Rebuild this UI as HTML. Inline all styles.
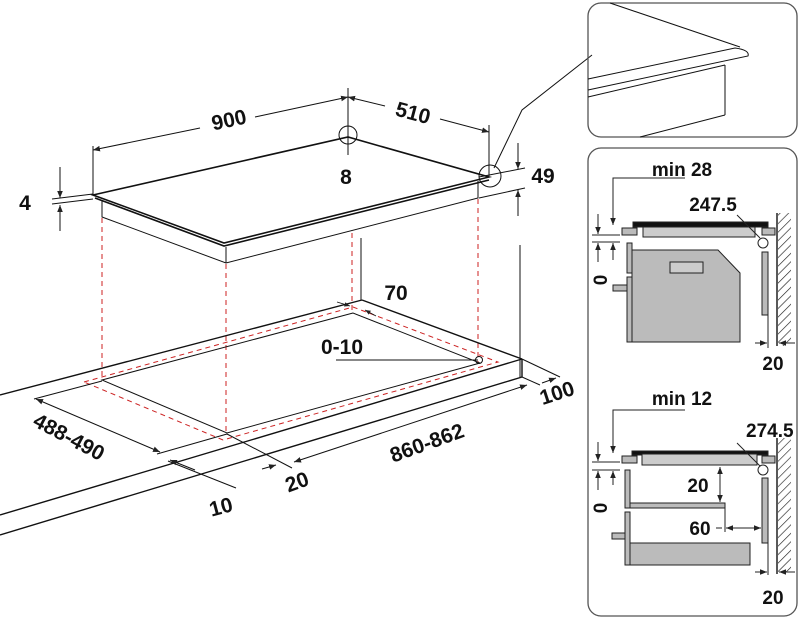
<!DOCTYPE html>
<html><head><meta charset="utf-8"><style>
html,body{margin:0;padding:0;background:#fff}
svg{display:block}
text{font-family:"Liberation Sans",sans-serif;font-weight:bold;fill:#111}
</style></head><body>
<svg width="800" height="621" viewBox="0 0 800 621" xmlns="http://www.w3.org/2000/svg">
<defs>
<marker id="a" viewBox="0 0 10 10" refX="10" refY="5" markerWidth="7" markerHeight="7" orient="auto-start-reverse"><path d="M0,1 L10,5 L0,9 z" fill="#222"/></marker>
<pattern id="h" width="6" height="6" patternUnits="userSpaceOnUse" patternTransform="rotate(45)"><line x1="0" y1="0" x2="0" y2="6" stroke="#222" stroke-width="1.3"/></pattern>
</defs>
<g stroke="#111" fill="none" stroke-width="1">
<path d="M93,195 L348,137 L489,177 L224,243 Z" stroke-width="1.6"/>
<path d="M95,198 L224,246 L489,180" stroke-width="1.6"/>
<path d="M102,200 L102,217 L226,263 L478,198 L478,181"/>
<line x1="226" y1="247" x2="226" y2="263"/>
<line x1="93" y1="150" x2="200" y2="128" marker-start="url(#a)"/>
<line x1="255" y1="117" x2="348" y2="97" marker-end="url(#a)"/>
<line x1="348" y1="97" x2="385" y2="106" marker-start="url(#a)"/>
<line x1="440" y1="119" x2="489" y2="132" marker-end="url(#a)"/>
<line x1="93" y1="146" x2="93" y2="195"/>
<line x1="348" y1="88" x2="348" y2="155"/>
<line x1="489" y1="125" x2="489" y2="176"/>
<circle cx="348" cy="135" r="9"/>
<circle cx="490" cy="176" r="11"/>
<polyline points="494,168 522,110 592,55"/>
<line x1="479" y1="177" x2="525" y2="168"/>
<line x1="479" y1="198" x2="525" y2="188"/>
<line x1="518" y1="143" x2="518" y2="169" marker-end="url(#a)"/>
<line x1="518" y1="216" x2="518" y2="190" marker-end="url(#a)"/>
<line x1="52" y1="199" x2="93" y2="194"/>
<line x1="52" y1="204" x2="93" y2="199"/>
<line x1="60" y1="167" x2="60" y2="198" marker-end="url(#a)"/>
<line x1="60" y1="231" x2="60" y2="205" marker-end="url(#a)"/>
<g stroke="#c22" stroke-dasharray="5,4">
<line x1="102" y1="218" x2="102" y2="380"/>
<line x1="226" y1="264" x2="226" y2="433"/>
<line x1="352" y1="233" x2="352" y2="312"/>
<line x1="478" y1="199" x2="478" y2="362"/>
<path d="M84,382 L353,307 L498,362 L223,440 Z"/>
</g>
<line x1="361" y1="238" x2="361" y2="300"/>
<line x1="520" y1="245" x2="520" y2="378"/>
<line x1="0" y1="395" x2="362" y2="300" stroke-width="1.4"/>
<line x1="362" y1="300" x2="522" y2="359" stroke-width="1.4"/>
<line x1="522" y1="359" x2="0" y2="515" stroke-width="1.4"/>
<line x1="522" y1="377" x2="0" y2="535" stroke-width="1.4"/>
<line x1="522" y1="359" x2="522" y2="377" stroke-width="1.4"/>
<path d="M353,313 L102,380 L227,433 L480,363 Z"/>
<line x1="337" y1="302" x2="350" y2="306" marker-end="url(#a)" stroke-width="0.8"/>
<line x1="365" y1="310" x2="376" y2="316" marker-start="url(#a)" stroke-width="0.8"/>
<line x1="336" y1="360" x2="478" y2="360"/>
<circle cx="479" cy="360" r="3.5"/>
<line x1="102" y1="381" x2="34" y2="399"/>
<line x1="36" y1="399" x2="160" y2="452" marker-start="url(#a)" marker-end="url(#a)"/>
<line x1="157" y1="454" x2="227" y2="434"/>
<line x1="168" y1="461" x2="236" y2="488"/>
<line x1="170" y1="460" x2="195" y2="470" marker-start="url(#a)"/>
<line x1="227" y1="434" x2="292" y2="468"/>
<line x1="262" y1="469" x2="276" y2="465" marker-end="url(#a)"/>
<line x1="294" y1="462" x2="527" y2="385" marker-start="url(#a)" marker-end="url(#a)"/>
<line x1="522" y1="377" x2="540" y2="385"/>
<line x1="522" y1="359" x2="560" y2="377"/>
<line x1="542" y1="383" x2="556" y2="378" marker-end="url(#a)"/>
<rect x="588" y="3" width="209" height="134" rx="13" stroke="#555" stroke-width="1.3"/>
<line x1="610" y1="3" x2="740" y2="47"/>
<path d="M588,79 L735,48 Q750,50 748,56 L588,90"/>
<line x1="588" y1="97" x2="725" y2="65"/>
<line x1="725" y1="65" x2="725" y2="115"/>
<line x1="725" y1="115" x2="640" y2="137"/>
<rect x="588" y="148" width="209" height="468" rx="13" stroke="#555" stroke-width="1.3"/>
</g>
<g stroke="#222" stroke-width="1">
<polyline points="685,178 613,178 613,225" fill="none" marker-end="url(#a)"/>
<line x1="613" y1="260" x2="613" y2="243" marker-end="url(#a)"/>
<line x1="592" y1="235" x2="620" y2="235"/>
<line x1="592" y1="242" x2="620" y2="242"/>
<line x1="598" y1="214" x2="598" y2="234" marker-end="url(#a)"/>
<line x1="598" y1="262" x2="598" y2="243" marker-end="url(#a)"/>
<rect x="633" y="222" width="135" height="5" fill="#111"/>
<rect x="622" y="228" width="15" height="7" fill="#bbb"/>
<rect x="762" y="228" width="13" height="7" fill="#bbb"/>
<rect x="643" y="227" width="112" height="10" fill="#ccc"/>
<line x1="737" y1="215" x2="760" y2="238"/>
<circle cx="763" cy="243" r="5" fill="#fff"/>
<rect x="627" y="243" width="5" height="30" fill="#bbb"/>
<rect x="627" y="277" width="5" height="65" fill="#bbb"/>
<rect x="613" y="285" width="14" height="6" fill="#bbb"/>
<path d="M632,250 L718,250 L740,273 L740,342 L632,342 Z" fill="#bbb"/>
<rect x="670" y="262" width="33" height="11" fill="#ccc"/>
<rect x="762" y="252" width="6" height="63" fill="#bbb"/>
<rect x="778" y="213" width="13" height="133" fill="url(#h)" stroke="none"/>
<line x1="777" y1="213" x2="777" y2="346" stroke-width="1.5"/>
<line x1="768" y1="315" x2="768" y2="348"/>
<line x1="755" y1="343" x2="767" y2="343" marker-end="url(#a)"/>
<line x1="795" y1="343" x2="779" y2="343" marker-end="url(#a)"/>
</g>
<g stroke="#222" stroke-width="1">
<polyline points="685,410 613,410 613,453" fill="none" marker-end="url(#a)"/>
<line x1="613" y1="485" x2="613" y2="471" marker-end="url(#a)"/>
<line x1="592" y1="462" x2="620" y2="462"/>
<line x1="592" y1="470" x2="620" y2="470"/>
<line x1="598" y1="442" x2="598" y2="461" marker-end="url(#a)"/>
<line x1="598" y1="490" x2="598" y2="471" marker-end="url(#a)"/>
<rect x="632" y="451" width="136" height="4" fill="#111"/>
<rect x="622" y="456" width="15" height="7" fill="#bbb"/>
<rect x="762" y="456" width="13" height="7" fill="#bbb"/>
<rect x="642" y="454" width="115" height="11" fill="#ccc"/>
<line x1="737" y1="443" x2="760" y2="466"/>
<circle cx="763" cy="470" r="5" fill="#fff"/>
<rect x="625" y="470" width="5" height="38" fill="#bbb"/>
<rect x="625" y="512" width="5" height="53" fill="#bbb"/>
<rect x="612" y="533" width="13" height="6" fill="#bbb"/>
<rect x="630" y="503" width="95" height="5" fill="#bbb"/>
<line x1="720" y1="467" x2="720" y2="502" marker-start="url(#a)" marker-end="url(#a)"/>
<line x1="725" y1="508" x2="725" y2="532"/>
<line x1="726" y1="528" x2="761" y2="528" marker-start="url(#a)" marker-end="url(#a)"/>
<line x1="716" y1="528" x2="722" y2="528"/>
<rect x="762" y="478" width="6" height="65" fill="#bbb"/>
<rect x="630" y="543" width="120" height="22" fill="#bbb"/>
<rect x="778" y="438" width="13" height="134" fill="url(#h)" stroke="none"/>
<line x1="777" y1="438" x2="777" y2="574" stroke-width="1.5"/>
<line x1="768" y1="543" x2="768" y2="575"/>
<line x1="755" y1="572" x2="767" y2="572" marker-end="url(#a)"/>
<line x1="795" y1="572" x2="779" y2="572" marker-end="url(#a)"/>
</g>
<g font-size="21">
<text x="229" y="127" text-anchor="middle" transform="rotate(-12 229 120)">900</text>
<text x="413" y="120" text-anchor="middle" transform="rotate(15 413 113)">510</text>
<text x="346" y="184" text-anchor="middle">8</text>
<text x="543" y="183" text-anchor="middle">49</text>
<text x="25" y="210" text-anchor="middle">4</text>
<text x="396" y="300" text-anchor="middle">70</text>
<text x="342" y="354" text-anchor="middle">0-10</text>
<text x="69" y="444" text-anchor="middle" transform="rotate(28 69 437)">488-490</text>
<text x="221" y="514" text-anchor="middle" transform="rotate(-15 221 507)">10</text>
<text x="297" y="489" text-anchor="middle" transform="rotate(-20 297 482)">20</text>
<text x="427" y="450" text-anchor="middle" transform="rotate(-20 427 443)">860-862</text>
<text x="557" y="400" text-anchor="middle" transform="rotate(-18 557 393)">100</text>
</g>
<g font-size="19">
<text x="682" y="176" text-anchor="middle">min 28</text>
<text x="713" y="211" text-anchor="middle">247.5</text>
<text x="598" y="282" text-anchor="middle" transform="rotate(-90 598 280)" dy="7">0</text>
<text x="773" y="370" text-anchor="middle">20</text>
<text x="682" y="405" text-anchor="middle">min 12</text>
<text x="746" y="437">274.5</text>
<text x="598" y="510" text-anchor="middle" transform="rotate(-90 598 508)" dy="7">0</text>
<text x="698" y="492" text-anchor="middle">20</text>
<text x="700" y="535" text-anchor="middle">60</text>
<text x="773" y="604" text-anchor="middle">20</text>
</g>
</svg>
</body></html>
